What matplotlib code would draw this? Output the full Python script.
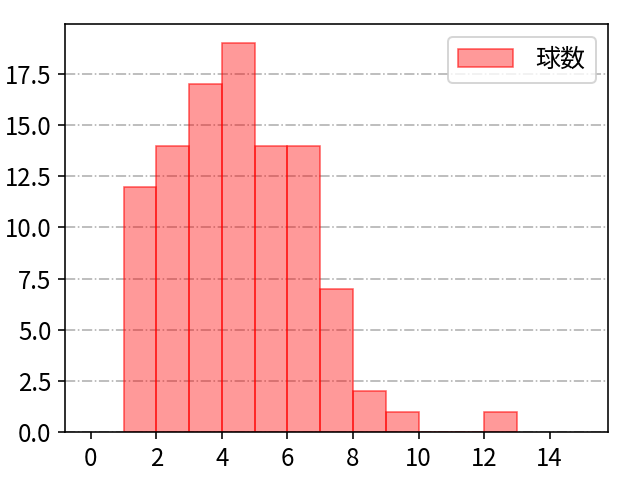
import matplotlib
matplotlib.use("Agg")
import matplotlib.pyplot as plt
import numpy as np

plt.rcParams['font.family'] = ['Noto Sans CJK JP', 'DejaVu Sans']

# left bin edges and counts (bin width 1)
bin_left = [1, 2, 3, 4, 5, 6, 7, 8, 9, 10, 11, 12]
counts = [12, 14, 17, 19, 14, 14, 7, 2, 1, 0, 0, 1]
label = '球数'

dpi = 144
fig, ax = plt.subplots(figsize=(640 / dpi, 480 / dpi), dpi=dpi)
fig.subplots_adjust(left=0.102, right=0.95, top=0.95, bottom=0.1)

ax.hist(bin_left, bins=np.arange(1, 14), weights=counts,
        facecolor=(1, 0, 0, 0.4), edgecolor=(1, 0, 0, 0.6), linewidth=0.8,
        label=label)

ax.set_xlim(-0.78, 15.78)
ax.set_ylim(0, 19.95)
ax.set_xticks(range(0, 15, 2))
ax.set_yticks(np.arange(0, 19, 2.5))
ax.yaxis.grid(True, linestyle='-.', color='#b0b0b0', linewidth=0.8)
ax.set_axisbelow(True)
ax.tick_params(labelsize=12)
ax.legend(fontsize=12.5, loc='upper right', handlelength=2.2, handletextpad=0.9)

fig.savefig('out.png', dpi=dpi)
